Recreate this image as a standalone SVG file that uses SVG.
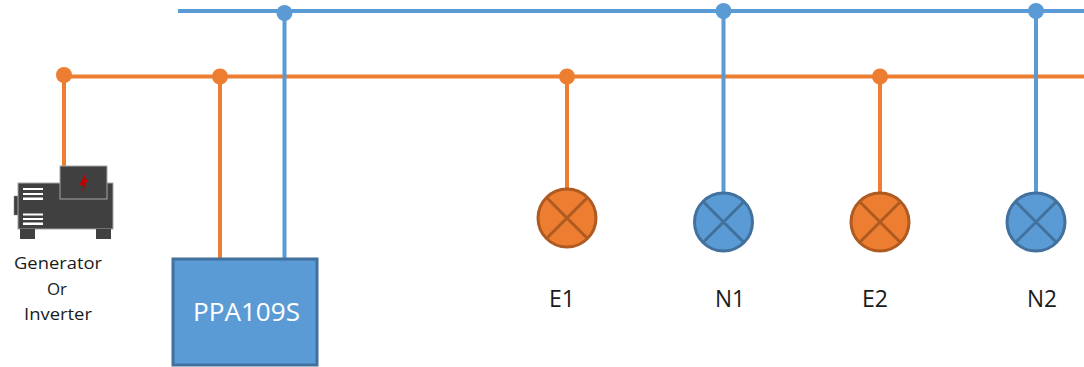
<svg xmlns="http://www.w3.org/2000/svg" width="1084" height="367" viewBox="0 0 1084 367">
<style>
text{font-family:"Open Sans","Noto Sans","Liberation Sans",sans-serif;fill:#1a1a1a}
.o{stroke:#ed7d31;stroke-width:4;fill:none}
.b{stroke:#5b9bd5;stroke-width:4;fill:none}
.od{fill:#ed7d31}
.bd{fill:#5b9bd5}
.lo{fill:#ed7d31;stroke:#ae5a21;stroke-width:3}
.lb{fill:#5b9bd5;stroke:#41719c;stroke-width:3}
.xo{stroke:#ae5a21;stroke-width:3}
.xb{stroke:#41719c;stroke-width:3}
.lbl{font-size:23px}
.sm{font-size:17px}
.g{fill:#404040}
.v{fill:#fff}
</style>
<g id="connectors">
<path class="o" d="M64 76.500H1084M64 76V166M220 76V259M567 76V190M880 76V193"/>
<path class="b" d="M178 11H1084M284.500 11V259M723.500 11V192M1036 11V192"/>
<circle class="od" cx="64" cy="75" r="8"/>
<circle class="od" cx="220" cy="76.500" r="8"/>
<circle class="od" cx="567" cy="76.500" r="8"/>
<circle class="od" cx="880" cy="76.500" r="8"/>
<circle class="bd" cx="284.500" cy="13" r="8"/>
<circle class="bd" cx="723.500" cy="11" r="8"/>
<circle class="bd" cx="1036" cy="11" r="8"/>
</g>
<g id="generator">
<rect class="g" x="14" y="196" width="5" height="19" stroke="#8a8a8a" stroke-width="0.5"/>
<rect class="g" x="18" y="183" width="95" height="46" stroke="#a6a6a6" stroke-width="1"/>
<rect class="g" x="20" y="229" width="15" height="10"/>
<rect class="g" x="96" y="229" width="15" height="10"/>
<path class="v" d="M23 188h20v2h-20zM23 193h20v2h-20zM23 197.500h20v2.500h-20zM23 213.500h20v2h-20zM23 218h20v2h-20zM23 222.500h20v2.500h-20z"/>
<rect class="g" x="60" y="166" width="47" height="33" stroke="#a6a6a6" stroke-width="1"/>
<path d="M86 172l-6.500 13 3.500 0-0.500 7 5.500-13-3.500 0z" fill="#c00000"/>
<text class="sm" x="14" y="269" textLength="88" lengthAdjust="spacingAndGlyphs">Generator</text>
<text class="sm" x="47" y="295" textLength="20" lengthAdjust="spacingAndGlyphs">Or</text>
<text class="sm" x="24" y="320" textLength="68" lengthAdjust="spacingAndGlyphs">Inverter</text>
</g>
<g id="ppa109s">
<rect class="lb" x="173" y="259" width="144" height="106"/>
<text x="193" y="321" font-size="25" textLength="107" lengthAdjust="spacingAndGlyphs" style="fill:#fff">PPA109S</text>
</g>
<g id="e1">
<circle class="lo" cx="567" cy="218" r="29"/>
<path class="xo" d="M546.500 197.500l41 41M587.500 197.500l-41 41"/>
<text class="lbl" x="549" y="306.500" textLength="26" lengthAdjust="spacingAndGlyphs">E1</text>
</g>
<g id="n1">
<circle class="lb" cx="723.500" cy="222" r="29"/>
<path class="xb" d="M703 201.500l41 41M744 201.500l-41 41"/>
<text class="lbl" x="715" y="306.500" textLength="30" lengthAdjust="spacingAndGlyphs">N1</text>
</g>
<g id="e2">
<circle class="lo" cx="880" cy="222" r="29"/>
<path class="xo" d="M859.500 201.500l41 41M900.500 201.500l-41 41"/>
<text class="lbl" x="862" y="306.500" textLength="26" lengthAdjust="spacingAndGlyphs">E2</text>
</g>
<g id="n2">
<circle class="lb" cx="1036" cy="222" r="29"/>
<path class="xb" d="M1015.500 201.500l41 41M1056.500 201.500l-41 41"/>
<text class="lbl" x="1027" y="306.500" textLength="30" lengthAdjust="spacingAndGlyphs">N2</text>
</g>
</svg>
